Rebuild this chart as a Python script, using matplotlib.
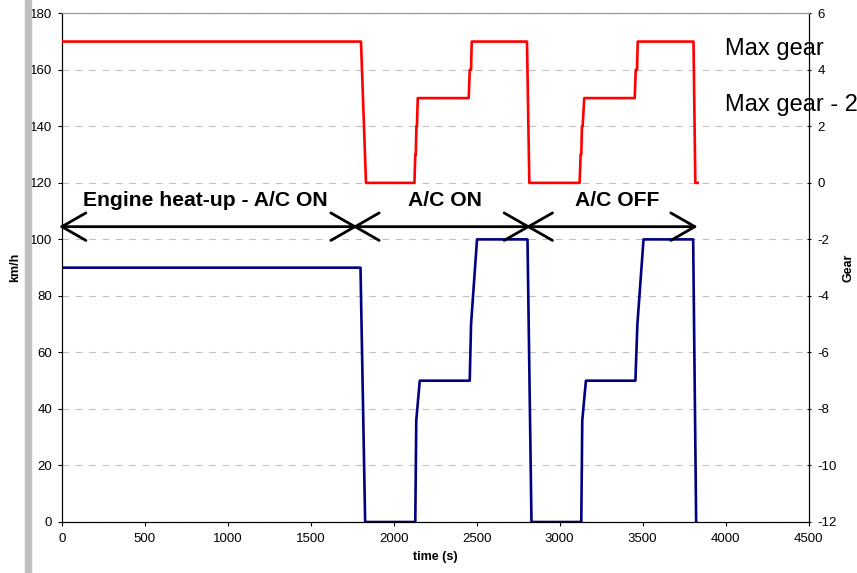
import matplotlib
matplotlib.use("Agg")
import matplotlib.pyplot as plt
from matplotlib.patches import Rectangle

plt.rcParams['font.family'] = ['Liberation Sans', 'DejaVu Sans']
plt.rcParams['axes.unicode_minus'] = False

# vehicle speed (km/h) over time (s)
speed_time = [0, 1800, 1828, 2130, 2136, 2157, 2458, 2466, 2502, 2806, 2830,
              3130, 3136, 3158, 3456, 3468, 3505, 3804, 3822]
speed = [90, 90, 0, 0, 36, 50, 50, 70, 100, 100, 0,
         0, 36, 50, 50, 70, 100, 100, 0]

# gear over time (s)
gear_time = [0, 1803, 1833, 2125, 2130, 2133, 2137, 2140, 2145, 2452, 2458,
             2466, 2470, 2803, 2817, 3120, 3126, 3130, 3134, 3138, 3148, 3452,
             3458, 3466, 3470, 3806, 3817, 3831]
gear = [5, 5, 0, 0, 1, 1, 2, 2, 3, 3, 4,
        4, 5, 5, 0, 0, 1, 1, 2, 2, 3, 3,
        4, 4, 5, 5, 0, 0]

# phases shown with double arrows
phase_labels = ['Engine heat-up - A/C ON', 'A/C ON', 'A/C OFF']
phase_bounds = [0, 1767, 2811, 3815]
phase_label_x = [863, 2306, 3348]
ARROW_Y = 104.5
LABEL_Y = 111.8
# matplotlib pulls the arrow tips back by half the stroke, push them out again
TIP_PAD = 16

gear_labels = ['Max gear', 'Max gear - 2']
gear_label_y = [4.52, 2.55]
GEAR_LABEL_X = 3995

W, H = 857, 573
fig = plt.figure(figsize=(W / 100, H / 100), dpi=100)

# gray bar at left side of the picture
fig.patches.append(Rectangle((25 / W, 0), 6 / W, 1, transform=fig.transFigure,
                             color='#c0c0c0', zorder=0))

ax = fig.add_axes([61.7 / W, (H - 522) / H, 747 / W, 508.7 / H])
ax2 = ax.twinx()

ax.plot(speed_time, speed, color='#000080', lw=1.9, zorder=3)
ax2.plot(gear_time, gear, color='#ff0000', lw=1.9, zorder=3)

ax.set_xlim(0, 4500)
ax.set_ylim(0, 180)
ax2.set_ylim(-12, 6)
ax.set_xticks(range(0, 4501, 500))
ax.set_yticks(range(0, 181, 20))
ax2.set_yticks(range(-12, 7, 2))

ax.yaxis.grid(True, color='#c0c0c0', linestyle=(0, (6, 6)), lw=0.8)
ax.set_axisbelow(True)

for a in (ax, ax2):
    a.spines['top'].set_color('#999999')
    a.spines['left'].set_color('black')
    a.spines['right'].set_color('black')
    a.spines['bottom'].set_color('black')

ax.tick_params(axis='both', labelsize=9.5, direction='out', length=2.6,
               width=0.8, colors='black')
ax.tick_params(axis='y', pad=4.3)
ax.tick_params(axis='x', pad=5.5)
ax2.tick_params(axis='y', labelsize=9.5, direction='inout', length=3,
                width=0.8, pad=5)

# double arrows between phases
for i in range(len(phase_labels)):
    ax2.annotate('', xy=(phase_bounds[i] - TIP_PAD, ARROW_Y),
                 xytext=(phase_bounds[i + 1] + TIP_PAD, ARROW_Y),
                 xycoords=ax.transData, textcoords=ax.transData,
                 annotation_clip=False,
                 arrowprops=dict(arrowstyle='<->,head_length=1.73,head_width=0.99',
                                 mutation_scale=10, color='black', lw=2.0,
                                 shrinkA=0, shrinkB=0), zorder=5)
    ax2.text(phase_label_x[i], LABEL_Y, phase_labels[i], transform=ax.transData,
             ha='center', va='baseline', fontsize=15.2, fontweight='bold',
             zorder=6)

for lbl, y in zip(gear_labels, gear_label_y):
    ax2.text(GEAR_LABEL_X, y, lbl, ha='left', va='baseline', fontsize=17)

fig.text(15 / W, 1 - 267.7 / H, 'km/h', rotation=90, ha='center', va='center',
         fontsize=9, fontweight='bold')
fig.text(848 / W, 1 - 267.7 / H, 'Gear', rotation=90, ha='center', va='center',
         fontsize=9, fontweight='bold')
fig.text(435 / W, 1 - 557 / H, 'time (s)', ha='center', va='center',
         fontsize=9, fontweight='bold')

fig.savefig('out.png', dpi=100)
